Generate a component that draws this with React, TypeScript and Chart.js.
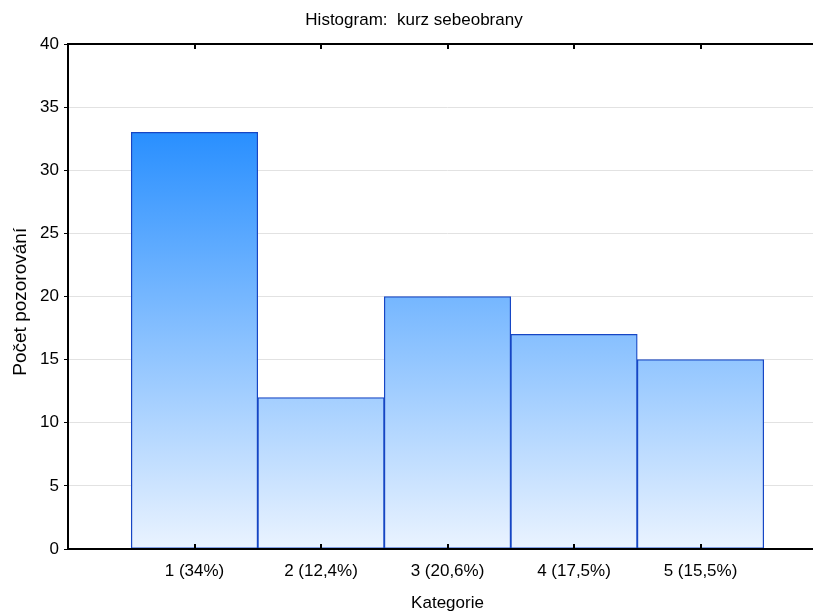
import React, { useEffect, useRef } from "react";
import { Chart, registerables } from "chart.js";

Chart.register(...registerables);

const categories = ["1 (34%)", "2 (12,4%)", "3 (20,6%)", "4 (17,5%)", "5 (15,5%)"];
const counts = [33, 12, 20, 17, 15];
const yMin = 0;
const yMax = 40;
const yStep = 5;
const chartTitle = "Histogram:  kurz sebeobrany";
const xTitle = "Kategorie";
const yTitle = "Počet pozorování  ";

const FONT = "'Liberation Sans', Arial, sans-serif";

const axesPlugin = {
  id: "statAxes",
  afterDatasetsDraw(chart: any) {
    const { ctx, chartArea: a, scales } = chart;
    const xs = scales.x;
    ctx.save();
    ctx.strokeStyle = "#000";
    ctx.lineWidth = 2;
    ctx.beginPath();
    ctx.moveTo(a.left, a.top);
    ctx.lineTo(a.right, a.top);
    ctx.moveTo(a.left, a.top - 1);
    ctx.lineTo(a.left, a.bottom + 1);
    ctx.moveTo(a.left - 1, a.bottom);
    ctx.lineTo(a.right, a.bottom);
    ctx.moveTo(a.right, a.top - 1);
    ctx.lineTo(a.right, a.bottom + 1);
    ctx.stroke();
    ctx.lineWidth = 2;
    ctx.beginPath();
    for (let i = 1; i <= categories.length; i++) {
      const px = Math.round(xs.getPixelForValue(i));
      ctx.moveTo(px, a.bottom);
      ctx.lineTo(px, a.bottom - 5);
      ctx.moveTo(px, a.top);
      ctx.lineTo(px, a.top + 5);
    }
    ctx.stroke();
    ctx.restore();
  },
};

export default function App() {
  const ref = useRef<HTMLCanvasElement | null>(null);

  useEffect(() => {
    if (!ref.current) return;
    Chart.defaults.font.family = FONT;
    Chart.defaults.color = "#000";
    const labels = ["", ...categories, ""];
    const data = [null, ...counts, null];
    const chart = new Chart(ref.current, {
      type: "bar",
      data: {
        labels,
        datasets: [
          {
            data,
            backgroundColor: (context: any) => {
              const c = context.chart;
              const area = c.chartArea;
              if (!area) return "#5aa8ff";
              const g = c.ctx.createLinearGradient(0, area.top, 0, area.bottom);
              g.addColorStop(0, "rgb(0,122,255)");
              g.addColorStop(1, "rgb(234,243,255)");
              return g;
            },
            borderColor: "#1646c4",
            borderWidth: 1.3,
            borderSkipped: false,
            barPercentage: 1,
            categoryPercentage: 1,
          },
        ],
      },
      options: {
        responsive: false,
        animation: false,
        layout: { padding: { left: 0, right: 11, top: 0, bottom: 0 } },
        plugins: {
          legend: { display: false },
          tooltip: { enabled: false },
          title: {
            display: true,
            text: chartTitle,
            color: "#000",
            font: { size: 17, weight: "normal", family: FONT },
            padding: { top: 10, bottom: 13.6 },
          },
        },
        scales: {
          x: {
            type: "category",
            offset: false,
            grid: { display: false, drawTicks: false },
            border: { display: false },
            ticks: {
              font: { size: 17, family: FONT },
              padding: 12,
              maxRotation: 0,
              autoSkip: false,
            },
            title: {
              display: true,
              text: xTitle,
              font: { size: 17, family: FONT, lineHeight: 1 },
              padding: { top: 0, bottom: 0 },
            },
            afterFit(scale: any) {
              scale.height = 63;
            },
          },
          y: {
            min: yMin,
            max: yMax,
            ticks: {
              stepSize: yStep,
              font: { size: 17, family: FONT },
              padding: 5,
            },
            grid: {
              color: "#e2e2e2",
              tickColor: "#000",
              tickLength: 4,
              drawTicks: true,
              lineWidth: 1,
            },
            border: { display: false },
            title: {
              display: true,
              text: yTitle,
              font: { size: 19, family: FONT, lineHeight: 1.2 },
              padding: { top: 9, bottom: 0 },
            },
            afterFit(scale: any) {
              scale.width = 68;
            },
          },
        },
      },
      plugins: [axesPlugin],
    } as any);
    return () => chart.destroy();
  }, []);

  return (
    <div
      style={{
        position: "fixed",
        left: 0,
        top: 0,
        width: 813,
        height: 612,
        overflow: "hidden",
        background: "#fff",
      }}
    >
      <canvas ref={ref} width={839} height={612} style={{ width: 839, height: 612, display: "block" }} />
    </div>
  );
}
